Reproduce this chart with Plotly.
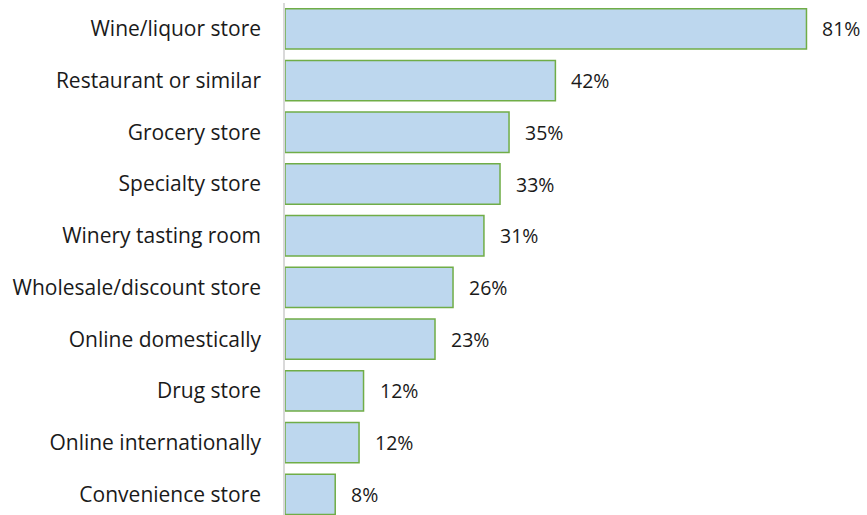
import plotly.graph_objects as go

categories = ["Wine/liquor store", "Restaurant or similar", "Grocery store", "Specialty store",
              "Winery tasting room", "Wholesale/discount store", "Online domestically",
              "Drug store", "Online internationally", "Convenience store"]
# bar lengths (percent)
values = [81.0, 42.0, 34.8, 33.4, 30.9, 26.1, 23.3, 12.2, 11.5, 7.8]
# value labels as printed on the chart
labels = ["81%", "42%", "35%", "33%", "31%", "26%", "23%", "12%", "12%", "8%"]

FONT = "Open Sans"

fig = go.Figure()
fig.add_trace(go.Bar(
    x=values, y=categories, orientation="h",
    marker=dict(color="#BDD7EE", line=dict(color="#70AD47", width=1.5)),
    hoverinfo="skip",
))

for c, v, t in zip(categories, values, labels):
    fig.add_annotation(x=v, y=c, text=t, showarrow=False, xanchor="left",
                       xshift=14, font=dict(family=FONT, size=19.5, color="#1a1a1a"))

fig.update_layout(
    width=867, height=515,
    margin=dict(l=285, r=0, t=3, b=0),
    paper_bgcolor="white", plot_bgcolor="white",
    bargap=0.22,
    showlegend=False,
    font=dict(family=FONT, size=20, color="#1a1a1a"),
    xaxis=dict(range=[0, 90.4], visible=False, showgrid=False, zeroline=False),
    yaxis=dict(type="category", categoryorder="array", categoryarray=categories,
               range=[9.4, -0.5], showgrid=False, zeroline=False, automargin=False,
               showline=True, linecolor="#D9D9D9", linewidth=1.5,
               ticks="", ticklabelstandoff=18,
               tickfont=dict(family=FONT, size=21, color="#1a1a1a")),
)

fig.write_html("out.html", config={"displayModeBar": False},
               post_script="document.body.style.margin='0';document.body.style.overflow='hidden';")
